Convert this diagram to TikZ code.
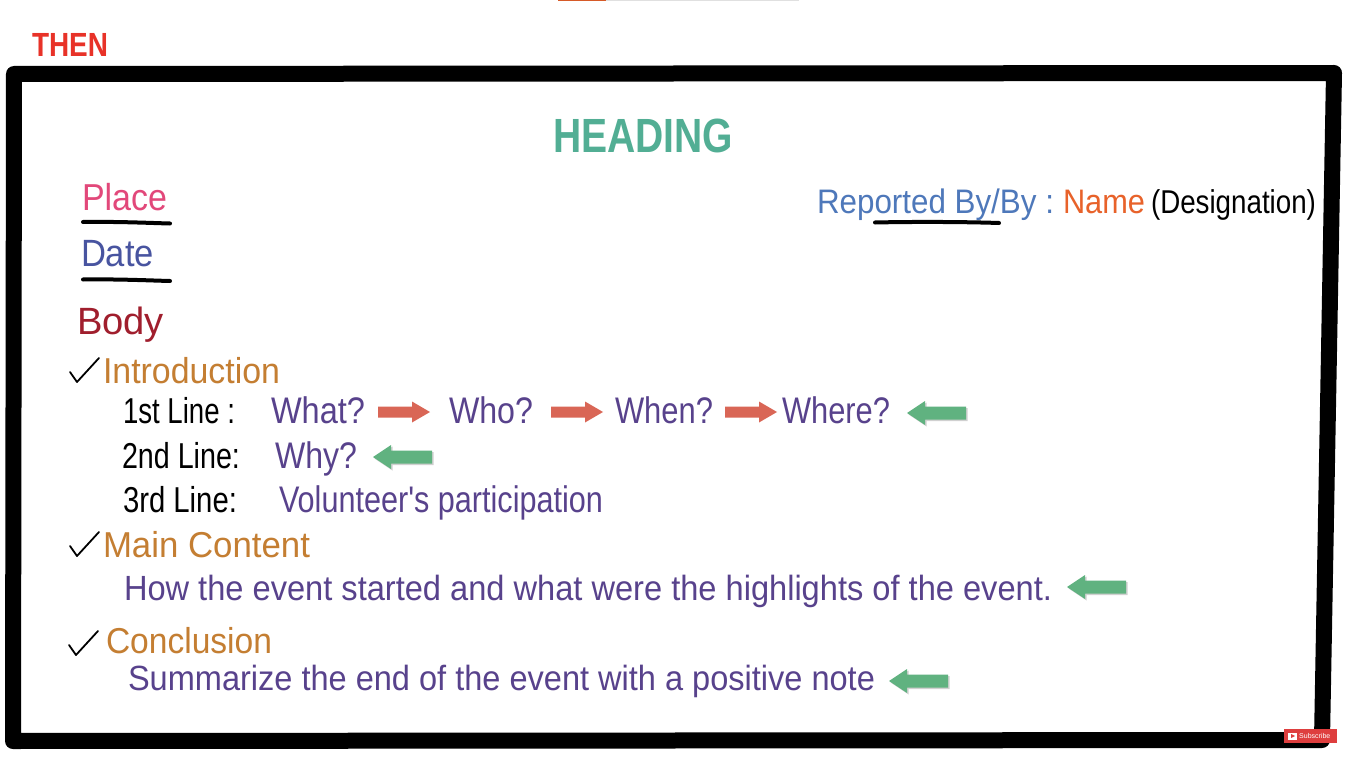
\documentclass[tikz,border=0pt]{standalone}
\usepackage{fontspec}
\usepackage{graphicx}
\setmainfont{Liberation Sans}

% palette
\definecolor{thenred}{RGB}{232,50,40}
\definecolor{headteal}{RGB}{82,174,148}
\definecolor{placepink}{RGB}{226,72,122}
\definecolor{dateblue}{RGB}{72,84,160}
\definecolor{bodyred}{RGB}{160,30,45}
\definecolor{secorange}{RGB}{196,126,50}
\definecolor{qpurple}{RGB}{88,66,140}
\definecolor{repblue}{RGB}{78,120,186}
\definecolor{nameorange}{RGB}{232,98,42}
\definecolor{arrowred}{RGB}{217,102,86}
\definecolor{arrowgreen}{RGB}{96,178,128}
\definecolor{subred}{RGB}{222,62,62}
\definecolor{barorange}{RGB}{214,90,40}

% text set at a given width (pt) and size (pt)
\newcommand\tw[3]{\resizebox{#1pt}{\height}{\fontsize{#2pt}{#2pt}\selectfont #3}}

\tikzset{
  txt/.style={anchor=base west, inner sep=0pt, outer sep=0pt},
  tick/.style={line width=1.8pt, line join=round, line cap=round},
  uline/.style={line width=4pt, line cap=round},
  redarrow/.pic={
    \fill[arrowred] (0,-5.5) -- (34,-5.5) -- (34,-10.5) -- (52,0) -- (34,10.5) -- (34,5.5) -- (0,5.5) -- cycle;
  },
  greenarrow/.pic={
    \fill[black!30, opacity=0.6] (1.5,1.5) -- (19.5,-10.5) -- (19.5,-5) -- (60.5,-5) -- (60.5,8) -- (19.5,8) -- (19.5,13.5) -- cycle;
    \fill[arrowgreen] (0,0) -- (18,-12) -- (18,-6.5) -- (59,-6.5) -- (59,6.5) -- (18,6.5) -- (18,12) -- cycle;
  }
}

\begin{document}
\begin{tikzpicture}[x=1pt, y=-1pt]
\useasboundingbox (0,0) rectangle (1361,768);
\fill[white] (0,0) rectangle (1361,768);

% progress strip along the top edge
\fill[barorange] (558,0) rectangle (606,1.4);
\fill[black!12] (606,0) rectangle (799,1.4);

% frame
\draw[line width=16pt, line join=round] (14,74) -- (1334,73) -- (1322,740) -- (13,741) -- cycle;

% title and heading
\node[txt, text=thenred] (then) at (32,57) {\tw{76}{33.5}{\bfseries THEN}};
\node[txt, text=headteal] (heading) at (553,152) {\tw{180}{48}{\bfseries HEADING}};

% place, date, reporter
\node[txt, text=placepink] (place) at (82,210) {\tw{85}{37.5}{Place}};
\draw[uline] (83,222) .. controls (120,221.5) and (150,223) .. (170,223.5);
\node[txt, text=dateblue] (date) at (81,266) {\tw{73}{38}{Date}};
\draw[uline] (83,279.5) .. controls (120,279) and (150,280.5) .. (170,281);

\node[txt, text=repblue] (reporter) at (817,213) {\tw{237}{34}{Reported By/By :}};
\node[txt, text=nameorange] (name) at (1063,213) {\tw{82}{34}{Name}};
\node[txt] (desig) at (1151,213) {\tw{165}{33}{(Designation)}};
\draw[uline] (875,222.5) .. controls (920,221.5) and (970,222) .. (999,223);

% body
\node[txt, text=bodyred] (body) at (77,334) {\tw{87}{38}{Body}};

% introduction
\draw[tick] (70,372) -- (77,382) -- (99,358);
\node[txt, text=secorange] (intro) at (103,383) {\tw{177}{36}{Introduction}};

\node[txt] (line1) at (123,423) {\tw{112}{36}{1st Line :}};
\node[txt, text=qpurple] (what) at (271,423) {\tw{94}{37}{What?}};
\pic at (378,412) {redarrow};
\node[txt, text=qpurple] (who) at (449,423) {\tw{84}{37}{Who?}};
\pic at (551,412) {redarrow};
\node[txt, text=qpurple] (when) at (615,423) {\tw{98}{37}{When?}};
\pic at (725,412) {redarrow};
\node[txt, text=qpurple] (where) at (782,423) {\tw{108}{37}{Where?}};
\pic at (907,413) {greenarrow};

\node[txt] (line2) at (122,468) {\tw{118}{36}{2nd Line:}};
\node[txt, text=qpurple] (why) at (275,468) {\tw{82}{37}{Why?}};
\pic at (373,457) {greenarrow};

\node[txt] (line3) at (123,512) {\tw{114}{36}{3rd Line:}};
\node[txt, text=qpurple] (volunteer) at (279,512) {\tw{324}{37}{Volunteer\textquotesingle s participation}};

% main content
\draw[tick] (70,546) -- (77,556) -- (99,532);
\node[txt, text=secorange] (maincontent) at (103,557) {\tw{207}{36}{Main Content}};
\node[txt, text=qpurple] (how) at (124,600) {\tw{928}{35}{How the event started and what were the highlights of the event.}};
\pic at (1067,587) {greenarrow};

% conclusion
\draw[tick] (69,645) -- (76,655) -- (98,631);
\node[txt, text=secorange] (conclusion) at (106,653) {\tw{166}{36}{Conclusion}};
\node[txt, text=qpurple] (summary) at (128,690) {\tw{747}{35}{Summarize the end of the event with a positive note}};
\pic at (889,681) {greenarrow};

% subscribe badge
\node[fill=subred, minimum width=53pt, minimum height=14pt, inner sep=0pt] (badge) at (1310.5,736) {};
\fill[white] (1288,732.5) rectangle (1297,739.5);
\fill[subred] (1291,734) -- (1295,736) -- (1291,738) -- cycle;
\node[anchor=west, inner sep=0pt, text=white, font=\fontsize{7}{7}\selectfont] (subscribe) at (1299,736) {Subscribe};
\end{tikzpicture}
\end{document}
